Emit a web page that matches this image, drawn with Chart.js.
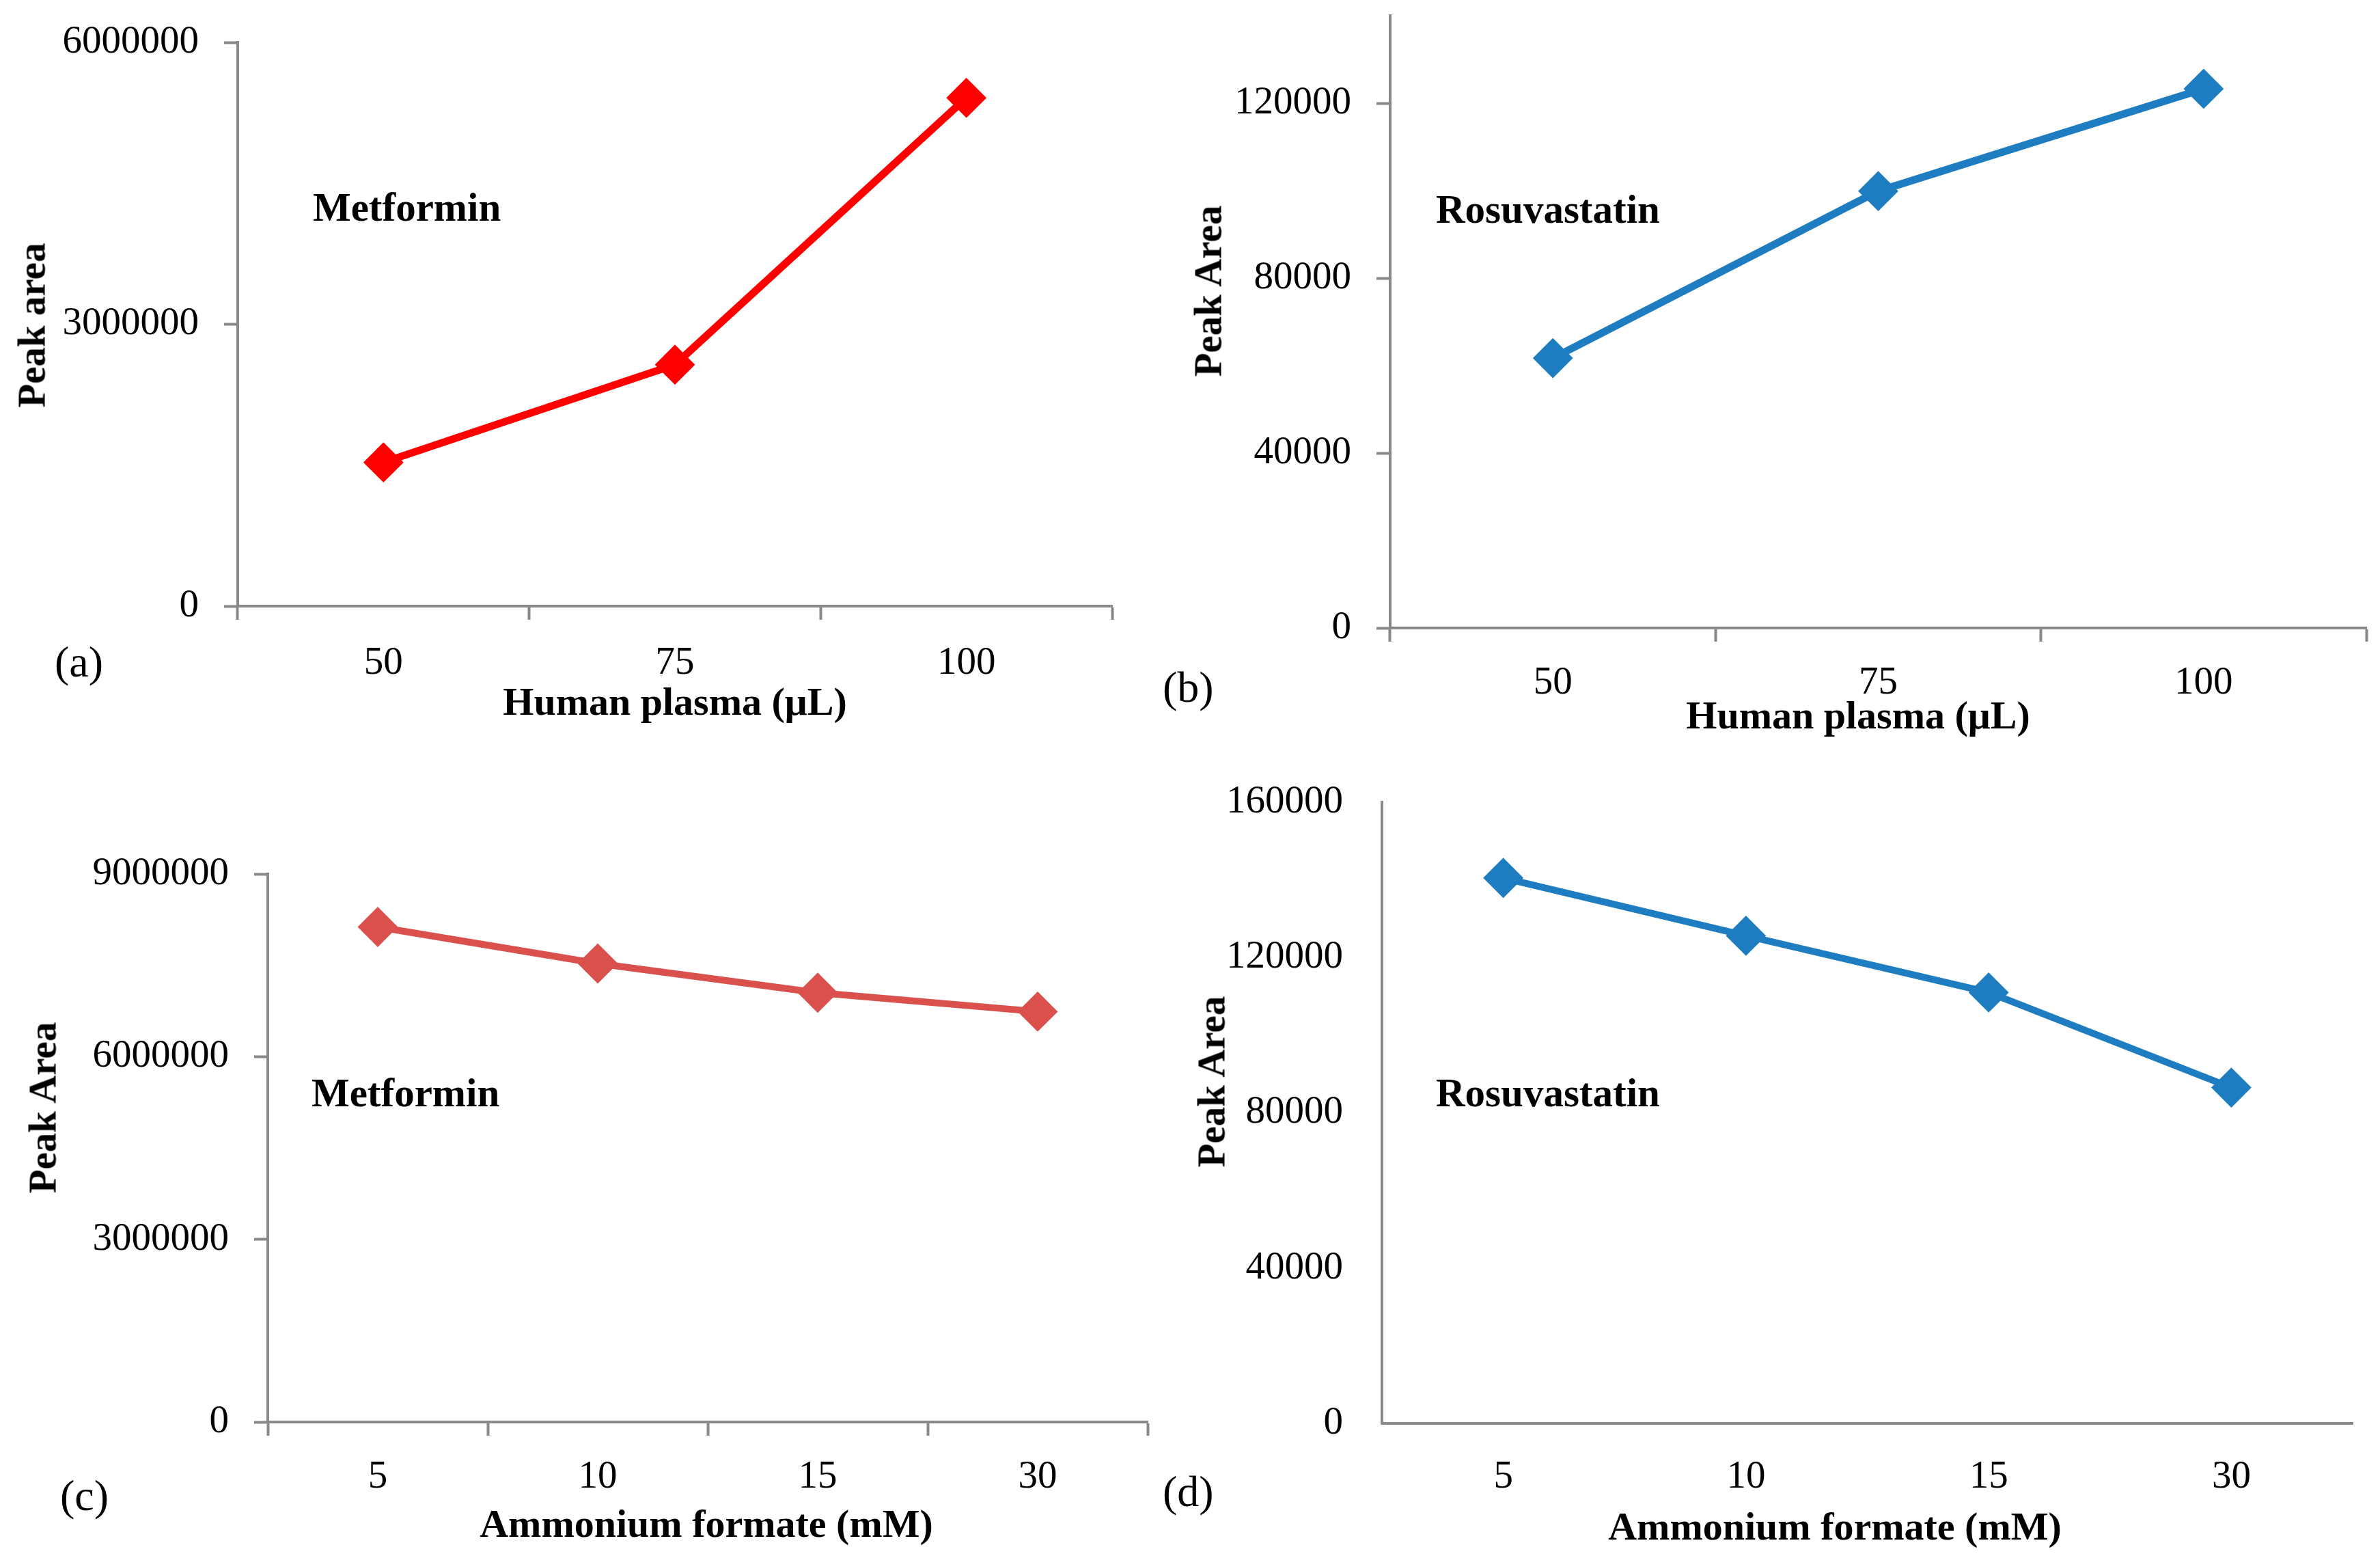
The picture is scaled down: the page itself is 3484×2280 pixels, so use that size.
<!DOCTYPE html>
<html><head><meta charset="utf-8">
<script src="https://cdn.jsdelivr.net/npm/chart.js@4.4.0/dist/chart.umd.min.js"></script>
<style>
html,body{margin:0;padding:0;background:#fff;}
#wrap{position:relative;width:3484px;height:2280px;overflow:hidden;background:#fff;}
canvas{position:absolute;}
.t{position:absolute;font-family:'Liberation Serif',serif;line-height:1;color:#000;white-space:nowrap;}
.b{font-weight:bold;}
.xt{position:absolute;font-family:'Liberation Serif',serif;font-weight:bold;font-size:58px;line-height:1;white-space:nowrap;transform:translate(-50%,-50%);}
.yt{position:absolute;font-family:'Liberation Serif',serif;font-weight:bold;font-size:57px;line-height:1;white-space:nowrap;transform:translate(-50%,-50%) rotate(-90deg);}
</style></head><body><div id="wrap">
<canvas id="ca"></canvas><canvas id="cb"></canvas><canvas id="cc"></canvas><canvas id="cd"></canvas>
<div class="t b" style="left:458px;top:274px;font-size:59px;">Metformin</div>
<div class="t" style="left:80px;top:937px;font-size:64px;">(a)</div>
<div class="t b" style="left:2102px;top:277px;font-size:59px;">Rosuvastatin</div>
<div class="t" style="left:1702px;top:974px;font-size:64px;">(b)</div>
<div class="t b" style="left:456px;top:1570px;font-size:59px;">Metformin</div>
<div class="t" style="left:88px;top:2157px;font-size:64px;">(c)</div>
<div class="t b" style="left:2102px;top:1570px;font-size:59px;">Rosuvastatin</div>
<div class="t" style="left:1702px;top:2151px;font-size:64px;">(d)</div>
<div class="xt" style="left:988px;top:1027px;">Human plasma (μL)</div>
<div class="xt" style="left:2720px;top:1047px;">Human plasma (μL)</div>
<div class="xt" style="left:1034px;top:2230px;">Ammonium formate (mM)</div>
<div class="xt" style="left:2686px;top:2234px;">Ammonium formate (mM)</div>
<div class="yt" style="left:46px;top:476px;">Peak area</div>
<div class="yt" style="left:1768px;top:426px;">Peak Area</div>
<div class="yt" style="left:62px;top:1621px;">Peak Area</div>
<div class="yt" style="left:1773px;top:1583px;">Peak Area</div>
</div>
<script>
// ---- data ----
const plasmaCategories = ['50', '75', '100'];
const formateCategories = ['5', '10', '15', '30'];
const metforminPlasma = [1530000, 2570000, 5410000];
const rosuvastatinPlasma = [61700, 99900, 123300];
const metforminFormate = [8130000, 7530000, 7050000, 6740000];
const rosuvastatinFormate = [140500, 125600, 111000, 86500];
const yTicksA = [0, 3000000, 6000000];
const yTicksB = [0, 40000, 80000, 120000];
const yTicksC = [0, 3000000, 6000000, 9000000];
const yTicksD = [0, 40000, 80000, 120000, 160000];

const AXIS = '#898989';
const FAM = "'Liberation Serif', serif";

function makePanel(id, box, area, o) {
  const cv = document.getElementById(id);
  cv.width = box.w; cv.height = box.h;
  cv.style.left = box.x + 'px'; cv.style.top = box.y + 'px';
  cv.style.width = box.w + 'px'; cv.style.height = box.h + 'px';
  const yW = area.left - box.x;
  const xH = box.y + box.h - area.bottom;
  new Chart(cv, {
    type: 'line',
    data: {
      labels: o.labels,
      datasets: [{
        data: o.values,
        borderColor: o.color, backgroundColor: o.color,
        borderWidth: o.lw, tension: 0, fill: false,
        pointStyle: 'rectRot', pointRadius: 28, pointBorderWidth: 2,
        pointBackgroundColor: o.color, pointBorderColor: o.color,
        clip: false
      }]
    },
    options: {
      responsive: false, devicePixelRatio: 1, animation: false,
      layout: { autoPadding: false, padding: { left: 0, top: area.top - box.y, right: box.x + box.w - area.right, bottom: 0 } },
      plugins: { legend: { display: false }, tooltip: { enabled: false }, title: { display: false } },
      scales: {
        x: {
          type: 'category', offset: true,
          grid: { display: true, offset: true, drawOnChartArea: false, drawTicks: o.marks, tickLength: 20, tickWidth: 4, tickColor: AXIS, color: AXIS },
          border: { display: true, color: AXIS, width: 4 },
          ticks: { color: '#000', font: { family: FAM, size: 57, lineHeight: 1 }, padding: o.xPad, maxRotation: 0, autoSkip: false },
          title: { display: false },
          afterFit: s => { s.height = xH; s.paddingLeft = 0; s.paddingRight = 0; }
        },
        y: {
          type: 'linear', min: 0, max: o.yMax,
          afterBuildTicks: s => { s.ticks = o.yTicks.map(v => ({ value: v })); },
          grid: { display: true, drawOnChartArea: false, drawTicks: o.marks, tickLength: 20, tickWidth: 4, tickColor: AXIS, color: AXIS },
          border: { display: true, color: AXIS, width: 4 },
          ticks: { color: '#000', font: { family: FAM, size: 57, lineHeight: 0.6 }, padding: o.yPad, callback: v => String(v) },
          title: { display: false },
          afterFit: s => { s.width = yW; s.paddingTop = 0; s.paddingBottom = 0; }
        }
      }
    }
  });
}

makePanel('ca', { x: 0, y: 0, w: 1720, h: 1100 }, { left: 348, top: 62, right: 1628, bottom: 887 }, {
  labels: plasmaCategories, values: metforminPlasma, color: '#FF0000', lw: 11,
  yTicks: yTicksA, yMax: 6000000, marks: true, xPad: 36, yPad: 37
});
makePanel('cb', { x: 1720, y: 0, w: 1764, h: 1100 }, { left: 2035, top: 23, right: 3464, bottom: 919 }, {
  labels: plasmaCategories, values: rosuvastatinPlasma, color: 'rgb(30,125,193)', lw: 11,
  yTicks: yTicksB, yMax: 140000, marks: true, xPad: 33, yPad: 37
});
makePanel('cc', { x: 0, y: 1100, w: 1720, h: 1180 }, { left: 392, top: 1279, right: 1680, bottom: 2081 }, {
  labels: formateCategories, values: metforminFormate, color: 'rgb(218,80,77)', lw: 10,
  yTicks: yTicksC, yMax: 9000000, marks: true, xPad: 33, yPad: 37
});
makePanel('cd', { x: 1720, y: 1100, w: 1764, h: 1180 }, { left: 2023, top: 1174, right: 3444, bottom: 2083 }, {
  labels: formateCategories, values: rosuvastatinFormate, color: 'rgb(30,125,193)', lw: 10,
  yTicks: yTicksD, yMax: 160000, marks: false, xPad: 51, yPad: 57
});
</script>
</body></html>
